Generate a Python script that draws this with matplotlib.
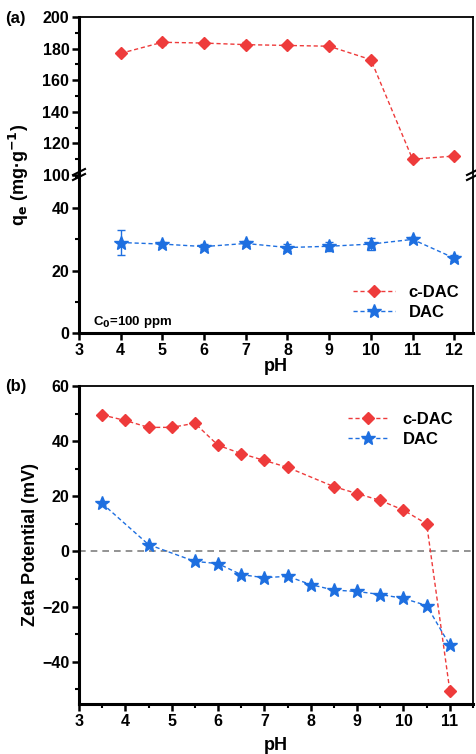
import numpy as np
import matplotlib
matplotlib.use('Agg')
import matplotlib.pyplot as plt
from matplotlib.ticker import MultipleLocator
from matplotlib.lines import Line2D

plt.rcParams['font.family'] = ['Liberation Sans', 'DejaVu Sans']
plt.rcParams['font.weight'] = 'bold'

# (a) adsorption capacity vs pH
ph_a = [4, 5, 6, 7, 8, 9, 10, 11, 12]
qe_cdac = [177, 184, 183.5, 182.5, 182, 181.5, 173, 110, 112]
qe_cdac_err = [1, 1.5, 1, 1.5, 1, 1, 1, 1, 1]
qe_dac = [29, 28.5, 27.7, 28.7, 27.4, 27.8, 28.5, 30, 24]
qe_dac_err = [4, 0.8, 0.8, 0.8, 1, 1.5, 1.8, 0.8, 1]

# (b) zeta potential vs pH
ph_b_cdac = [3.5, 4, 4.5, 5, 5.5, 6, 6.5, 7, 7.5, 8.5, 9, 9.5, 10, 10.5, 11]
zeta_cdac = [49.5, 47.5, 45, 45, 46.5, 38.5, 35.5, 33, 30.5, 23.5, 21, 18.5, 15, 10, -50.5]
ph_b_dac = [3.5, 4.5, 5.5, 6, 6.5, 7, 7.5, 8, 8.5, 9, 9.5, 10, 10.5, 11]
zeta_dac = [17.4, 2.5, -3.6, -4.4, -8.4, -9.5, -9, -12, -14, -14.5, -15.6, -17, -19.6, -34]

RED = '#EE3B3B'
BLUE = '#1E6FE0'
LS = (0, (3, 2))

W, H = 476, 754
fig = plt.figure(figsize=(W / 100, H / 100), dpi=100)


def box(left, top, right, bottom):
    return [left / W, 1 - bottom / H, (right - left) / W, (bottom - top) / H]


def style(ax, bottom=True, top=True):
    for s in ['left', 'bottom']:
        ax.spines[s].set_linewidth(2.2)
    for s in ['top', 'right']:
        ax.spines[s].set_linewidth(1.3)
    ax.spines['bottom'].set_visible(bottom)
    ax.spines['top'].set_visible(top)
    ax.tick_params(which='major', direction='out', length=5, width=1.8, labelsize=11.5, pad=2)
    ax.tick_params(which='minor', direction='out', length=3, width=1.5)
    ax.tick_params(top=False, right=False, which='both')


ax_up = fig.add_axes(box(79, 17, 473, 175))
ax_lo = fig.add_axes(box(79, 177, 473, 333))
ax_b = fig.add_axes(box(79, 386, 473, 704))

style(ax_up, bottom=False)
style(ax_lo, top=False)
style(ax_b)

for ax in [ax_up, ax_lo]:
    ax.errorbar(ph_a, qe_cdac, yerr=qe_cdac_err, color=RED, ls=LS, lw=1, marker='D',
                ms=6, capsize=3, elinewidth=1)
    ax.errorbar(ph_a, qe_dac, yerr=qe_dac_err, color=BLUE, ls=LS, lw=1, marker='*',
                ms=10, capsize=3, elinewidth=1)
    ax.set_xlim(3, 12.45)
    ax.xaxis.set_major_locator(MultipleLocator(1))

ax_up.set_ylim(100, 200)
ax_up.yaxis.set_major_locator(MultipleLocator(20))
ax_up.yaxis.set_minor_locator(MultipleLocator(10))
ax_up.tick_params(axis='x', which='both', bottom=False, labelbottom=False)

ax_lo.set_ylim(0, 50)
ax_lo.set_yticks([0, 20, 40])
ax_lo.yaxis.set_minor_locator(MultipleLocator(10))
ax_lo.set_xlabel('pH', fontsize=13, fontweight='bold', labelpad=0)

# break marks on both sides
for xb in [0, 1]:
    for dy in [0, 5]:
        fig.lines.append(Line2D([(79 + xb * 394 - 6) / W, (79 + xb * 394 + 6) / W],
                                [1 - (180 - dy) / H, 1 - (174 - dy) / H],
                                transform=fig.transFigure, color='black', lw=1.5))

handles = [Line2D([], [], color=RED, ls=LS, lw=1, marker='D', ms=6),
           Line2D([], [], color=BLUE, ls=LS, lw=1, marker='*', ms=10)]
labels = ['c-DAC', 'DAC']

ax_lo.legend(handles, labels, loc='lower right', bbox_to_anchor=(0.99, 0.02), frameon=False,
             fontsize=12, handlelength=2.5, borderaxespad=0.2, labelspacing=0.3)
ax_lo.text(0.035, 0.05, 'C$_\\mathbf{0}$=100 ppm', transform=ax_lo.transAxes,
           fontsize=9.5, fontweight='bold')

fig.text(0.04, 1 - 175 / H, 'q$_\\mathbf{e}$ (mg·g$^{\\mathbf{-1}}$)', rotation=90,
         ha='center', va='center', fontsize=13, fontweight='bold')
fig.text(5 / W, 1 - 18 / H, '(a)', fontsize=12, fontweight='bold', va='center')

# (b)
ax_b.axhline(0, color='gray', ls=(0, (4, 3)), lw=1.2)
ax_b.plot(ph_b_cdac, zeta_cdac, color=RED, ls=LS, lw=1, marker='D', ms=6)
ax_b.plot(ph_b_dac, zeta_dac, color=BLUE, ls=LS, lw=1, marker='*', ms=10)
ax_b.set_xlim(3, 11.5)
ax_b.set_ylim(-55.3, 60)
ax_b.xaxis.set_major_locator(MultipleLocator(1))
ax_b.xaxis.set_minor_locator(MultipleLocator(0.5))
ax_b.yaxis.set_major_locator(MultipleLocator(20))
ax_b.yaxis.set_minor_locator(MultipleLocator(10))
ax_b.set_ylabel('Zeta Potential (mV)', fontsize=13, fontweight='bold', labelpad=2)
ax_b.set_xlabel('pH', fontsize=13, fontweight='bold', labelpad=6)
ax_b.legend(handles, labels, loc='upper right', bbox_to_anchor=(0.975, 0.95), frameon=False,
            fontsize=12, handlelength=2.5, borderaxespad=0.2, labelspacing=0.3)
fig.text(5 / W, 1 - 387 / H, '(b)', fontsize=12, fontweight='bold', va='center')

for ax in [ax_up, ax_lo, ax_b]:
    for t in ax.get_xticklabels() + ax.get_yticklabels():
        t.set_fontweight('bold')

fig.savefig('out.png', dpi=100)
